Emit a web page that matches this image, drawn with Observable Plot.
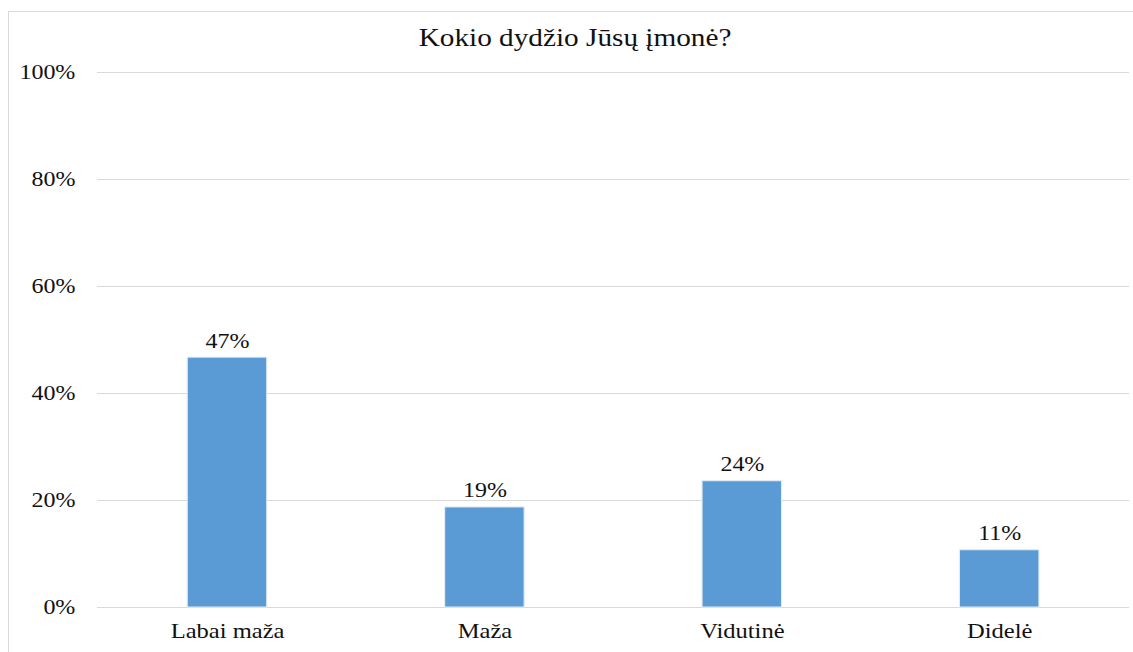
<!DOCTYPE html>
<html>
<head>
<meta charset="utf-8">
<script src="https://cdn.jsdelivr.net/npm/d3@7/dist/d3.min.js"></script>
<script src="https://cdn.jsdelivr.net/npm/@observablehq/plot@0.6/dist/plot.umd.min.js"></script>
<style>
  html, body { margin: 0; padding: 0; background: #fff; overflow: hidden; }
  #page { position: relative; width: 1133px; height: 652px; overflow: hidden; }
  #frame { position: absolute; left: 8px; top: 11px; width: 1200px; height: 700px; border: 1px solid #d9d9d9; box-sizing: border-box; }
  #wrap { position: absolute; left: 0; top: 0; width: 970px; height: 652px; transform: scaleX(1.17); transform-origin: 0 0; }
  #title { position: absolute; left: 0; top: 24px; width: 983px; text-align: center;
           font-family: "Liberation Serif", "Times New Roman", serif; font-size: 25px; line-height: 28px; color: #111; white-space: nowrap; }
  #chart { position: absolute; left: 0; top: 60px; }
  #chart svg { overflow: visible; }
  #err { position: absolute; left: 20px; top: 100px; color: red; font-size: 14px; }
</style>
</head>
<body>
<div id="page">
  <div id="frame"></div>
  <div id="wrap">
    <div id="title">Kokio dydžio Jūsų įmonė?</div>
    <div id="chart"></div>
  </div>
  <div id="err"></div>
</div>
<script>
const categories = ["Labai maža", "Maža", "Vidutinė", "Didelė"];
const values = [46.7, 18.7, 23.6, 10.7];
const valueLabels = ["47%", "19%", "24%", "11%"];
const yTicks = [0, 20, 40, 60, 80, 100];

try {
  const data = categories.map((c, i) => ({category: c, value: values[i], label: valueLabels[i]}));

  const S = 1.17;
  const W = Math.round(1133 / S);

  const chart = Plot.plot({
    width: W,
    height: 592,
    marginTop: 12,
    marginBottom: 45,
    marginLeft: 97 / S,
    marginRight: W - 1129 / S,
    style: {fontFamily: '"Liberation Serif", "Times New Roman", serif', fontSize: "20px", color: "#111", background: "transparent"},
    x: {domain: categories, paddingInner: 0.69, paddingOuter: 0.345, label: null},
    y: {domain: [0, 100], label: null},
    marks: [
      Plot.gridY(yTicks, {stroke: "#d9d9d9", strokeOpacity: 1, strokeWidth: 1}),
      Plot.barY(data, {x: "category", y: "value", fill: "#5b9bd5", stroke: "#e3ecf5", strokeWidth: 1}),
      Plot.text(data, {x: "category", y: "value", text: "label", lineAnchor: "bottom", dy: -10, fontSize: 20.5, fill: "#111"}),
      Plot.axisX({tickSize: 0, tickPadding: 16, fontSize: 21}),
      Plot.axisY(yTicks, {tickSize: 0, tickPadding: 19, tickFormat: d => d + "%", fontSize: 20.5})
    ]
  });
  document.getElementById("chart").appendChild(chart);
} catch (e) {
  document.getElementById("err").textContent = String(e && e.stack || e);
}
</script>
</body>
</html>
